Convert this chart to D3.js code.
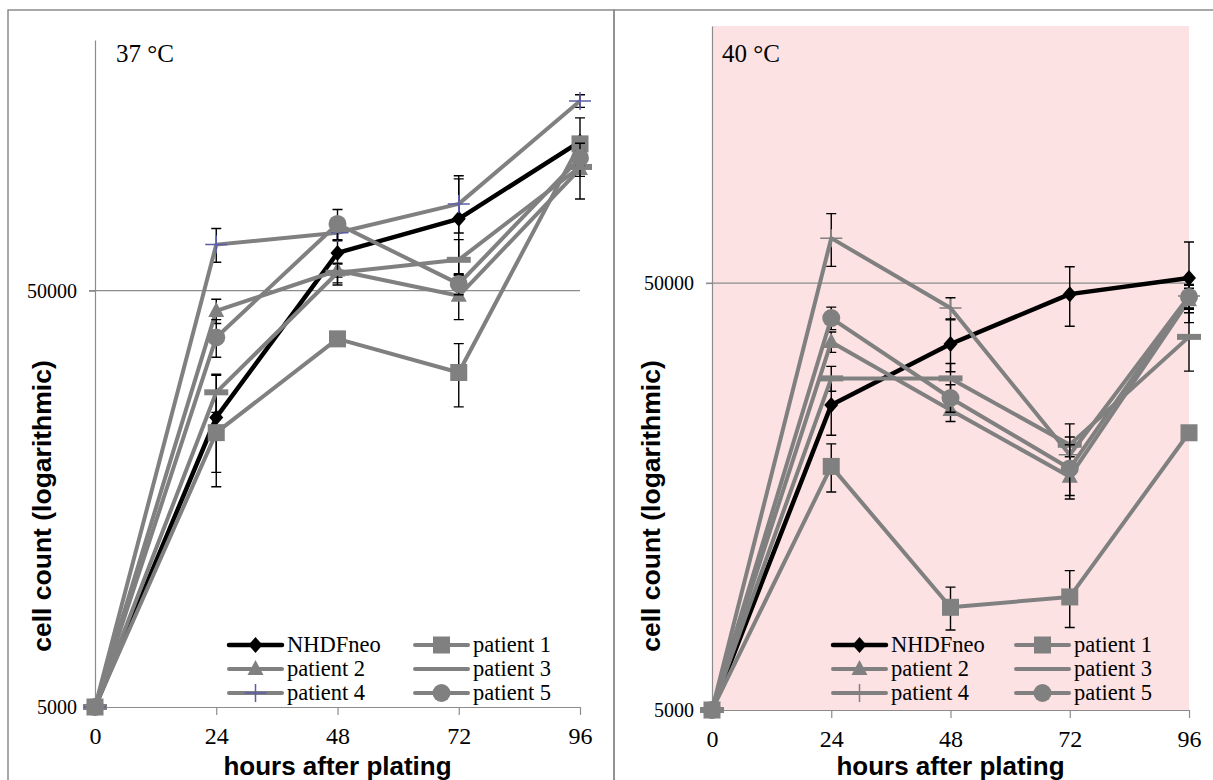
<!DOCTYPE html>
<html>
<head>
<meta charset="utf-8">
<script src="https://cdn.jsdelivr.net/npm/d3@7"></script>
<style>
  body { margin: 0; background: #fff; }
  svg { display: block; }
</style>
</head>
<body>
<svg id="chart" width="1213" height="780"></svg>
<script>
const hours = [0, 24, 48, 72, 96];
const yTicks = [5000, 50000];
const seriesNames = ['NHDFneo', 'patient 1', 'patient 2', 'patient 3', 'patient 4', 'patient 5'];

// 37 °C, mean cell counts and SD
const nhdf37 = [5000, 24800, 61600, 74400, 114000];
const p1_37 = [5000, 22800, 38300, 31800, 112600];
const p2_37 = [5000, 44700, 55900, 48600, 98000];
const p3_37 = [5000, 28500, 55200, 59300, 99100];
const p4_37 = [5000, 64500, 68900, 80800, 142800];
const p5_37 = [5000, 38600, 72300, 51900, 104200];
const nhdf37Err = [0, 6500, 10000, 20000, 16000];
const p1_37Err = [0, 5900, 1500, 5500, 4000];
const p2_37Err = [0, 3000, 2000, 6000, 15000];
const p3_37Err = [0, 3000, 3000, 7000, 5000];
const p4_37Err = [0, 6000, 3000, 12000, 5000];
const p5_37Err = [0, 4000, 6000, 3000, 4000];

// 40 °C, mean cell counts and SD
const nhdf40 = [5000, 25900, 36000, 47100, 51400];
const p1_40 = [5000, 18600, 8700, 9200, 22300];
const p2_40 = [5000, 36400, 25200, 17600, 45600];
const p3_40 = [5000, 29900, 29900, 20900, 37400];
const p4_40 = [5000, 63700, 43700, 19800, 46600];
const p5_40 = [5000, 41400, 26900, 18400, 46400];
const nhdf40Err = [0, 3900, 5000, 7500, 11000];
const p1_40Err = [0, 2400, 1000, 1400, 700];
const p2_40Err = [0, 2000, 1500, 2000, 3000];
const p3_40Err = [0, 2000, 2500, 2500, 6300];
const p4_40Err = [0, 9000, 2500, 2000, 3000];
const p5_40Err = [0, 2500, 2000, 2500, 3000];

const gray = '#808080';
const axisGray = '#8c8c8c';
const serif = '"Liberation Serif", "Times New Roman", serif';
const sans = '"Liberation Sans", Arial, sans-serif';
const markerTypes = ['diamond', 'square', 'triangle', 'dash', 'plus', 'circle'];

const panels = [
  {
    label: '37 °C', labelX: 116, frameX: 8, frameW: 606,
    left: 95, right: 580, top: 40, bottom: 707,
    fill: null, plusColor: '#5b5ea6',
    titleX: 51, legendX: [229, 415],
    values: [nhdf37, p1_37, p2_37, p3_37, p4_37, p5_37],
    errors: [nhdf37Err, p1_37Err, p2_37Err, p3_37Err, p4_37Err, p5_37Err]
  },
  {
    label: '40 °C', labelX: 722, frameX: 614, frameW: 620,
    left: 712, right: 1189, top: 26, bottom: 710,
    fill: '#fde2e4', plusColor: gray,
    titleX: 660, legendX: [833, 1016],
    values: [nhdf40, p1_40, p2_40, p3_40, p4_40, p5_40],
    errors: [nhdf40Err, p1_40Err, p2_40Err, p3_40Err, p4_40Err, p5_40Err]
  }
];

const svg = d3.select('#chart');

const drawMarker = (g, type, cx, cy, color, plusColor) => {
  if (type === 'diamond') {
    g.append('path')
      .attr('d', `M${cx},${cy - 8}L${cx + 7},${cy}L${cx},${cy + 8}L${cx - 7},${cy}Z`)
      .attr('fill', color);
  } else if (type === 'square') {
    g.append('rect')
      .attr('x', cx - 8.5).attr('y', cy - 8.5)
      .attr('width', 17).attr('height', 17)
      .attr('fill', color);
  } else if (type === 'triangle') {
    g.append('path')
      .attr('d', `M${cx},${cy - 9}L${cx + 8},${cy + 6}L${cx - 8},${cy + 6}Z`)
      .attr('fill', color);
  } else if (type === 'circle') {
    g.append('circle').attr('cx', cx).attr('cy', cy).attr('r', 9).attr('fill', color);
  } else if (type === 'dash') {
    g.append('rect')
      .attr('x', cx - 12).attr('y', cy - 3)
      .attr('width', 24).attr('height', 6)
      .attr('fill', color);
  } else if (type === 'plus') {
    g.append('path')
      .attr('d', `M${cx - 11},${cy}H${cx + 11}M${cx},${cy - 9}V${cy + 9}`)
      .attr('stroke', plusColor)
      .attr('stroke-width', 1.5)
      .attr('fill', 'none');
  }
};

const drawPanel = p => {
  const g = svg.append('g');

  const xScale = d3.scaleLinear().domain([0, 96]).range([p.left, p.right]);
  const yScale = d3.scaleLog().domain([5000, 200000]).range([p.bottom, p.top]);

  // frame
  g.append('rect')
    .attr('x', p.frameX).attr('y', 10)
    .attr('width', p.frameW).attr('height', 800)
    .attr('fill', 'none')
    .attr('stroke', axisGray)
    .attr('stroke-width', 1.5);

  if (p.fill) {
    g.append('rect')
      .attr('x', p.left).attr('y', p.top)
      .attr('width', p.right - p.left).attr('height', p.bottom - p.top)
      .attr('fill', p.fill);
  }

  // gridline at 50000
  g.append('line')
    .attr('x1', p.left - 6).attr('x2', p.right)
    .attr('y1', yScale(50000)).attr('y2', yScale(50000))
    .attr('stroke', axisGray)
    .attr('stroke-width', 1.2);

  const xAxis = d3.axisBottom(xScale)
    .tickValues(hours)
    .tickSize(8)
    .tickSizeOuter(0)
    .tickPadding(12);

  const xg = g.append('g')
    .attr('transform', 'translate(0,' + p.bottom + ')')
    .call(xAxis);

  const yAxis = d3.axisLeft(yScale)
    .tickValues(yTicks)
    .tickFormat(d3.format('d'))
    .tickSize(6)
    .tickSizeOuter(0)
    .tickPadding(12);

  const yg = g.append('g')
    .attr('transform', 'translate(' + p.left + ',0)')
    .call(yAxis);

  [xg, yg].forEach(a => {
    a.attr('font-family', null).attr('font-size', null);
    a.selectAll('path, line').attr('stroke', axisGray).attr('stroke-width', 1.2);
    a.selectAll('text')
      .attr('fill', '#000')
      .style('font-family', serif);
  });
  xg.selectAll('text').style('font-size', '24px');
  yg.selectAll('text').style('font-size', '20px');

  // series
  const line = d3.line()
    .x((d, i) => xScale(hours[i]))
    .y(d => yScale(d));

  p.values.forEach((vals, s) => {
    const color = s === 0 ? '#000' : gray;
    const sg = g.append('g');

    // error bars
    vals.forEach((v, i) => {
      const sd = p.errors[s][i];
      if (!sd) return;
      const cx = xScale(hours[i]);
      const y1 = yScale(v + sd);
      const y2 = yScale(Math.max(v - sd, 5000));
      sg.append('path')
        .attr('d', `M${cx},${y1}V${y2}M${cx - 5},${y1}H${cx + 5}M${cx - 5},${y2}H${cx + 5}`)
        .attr('stroke', '#000')
        .attr('stroke-width', 1.4)
        .attr('fill', 'none');
    });

    sg.append('path')
      .datum(vals)
      .attr('d', line)
      .attr('fill', 'none')
      .attr('stroke', color)
      .attr('stroke-width', s === 0 ? 4.5 : 4)
      .attr('stroke-linejoin', 'round');

    vals.forEach((v, i) => {
      drawMarker(sg, markerTypes[s], xScale(hours[i]), yScale(v), color, p.plusColor);
    });
  });

  // panel label
  g.append('text')
    .attr('x', p.labelX)
    .attr('y', 62)
    .style('font-family', serif)
    .style('font-size', '25px')
    .text(p.label);

  // axis titles
  g.append('text')
    .attr('x', (p.left + p.right) / 2)
    .attr('y', 775)
    .attr('text-anchor', 'middle')
    .style('font-family', sans)
    .style('font-weight', 'bold')
    .style('font-size', '26px')
    .text('hours after plating');

  g.append('text')
    .attr('transform', 'translate(' + p.titleX + ',506) rotate(-90)')
    .attr('text-anchor', 'middle')
    .style('font-family', sans)
    .style('font-weight', 'bold')
    .style('font-size', '26.5px')
    .text('cell count (logarithmic)');

  // legend
  seriesNames.forEach((name, s) => {
    const col = s % 2;
    const row = Math.floor(s / 2);
    const lx = p.legendX[col];
    const ly = 645 + row * 24;
    const color = s === 0 ? '#000' : gray;
    const lg = g.append('g');
    lg.append('line')
      .attr('x1', lx).attr('x2', lx + 53)
      .attr('y1', ly).attr('y2', ly)
      .attr('stroke', color)
      .attr('stroke-width', s === 0 ? 4.5 : 4)
      .attr('stroke-linecap', 'round');
    if (markerTypes[s] !== 'dash') {
      drawMarker(lg, markerTypes[s], lx + 26.5, ly, color, p.plusColor);
    }
    lg.append('text')
      .attr('x', lx + 58)
      .attr('y', ly + 7)
      .style('font-family', serif)
      .style('font-size', '22.5px')
      .text(name);
  });
};

panels.forEach(drawPanel);
</script>
</body>
</html>
